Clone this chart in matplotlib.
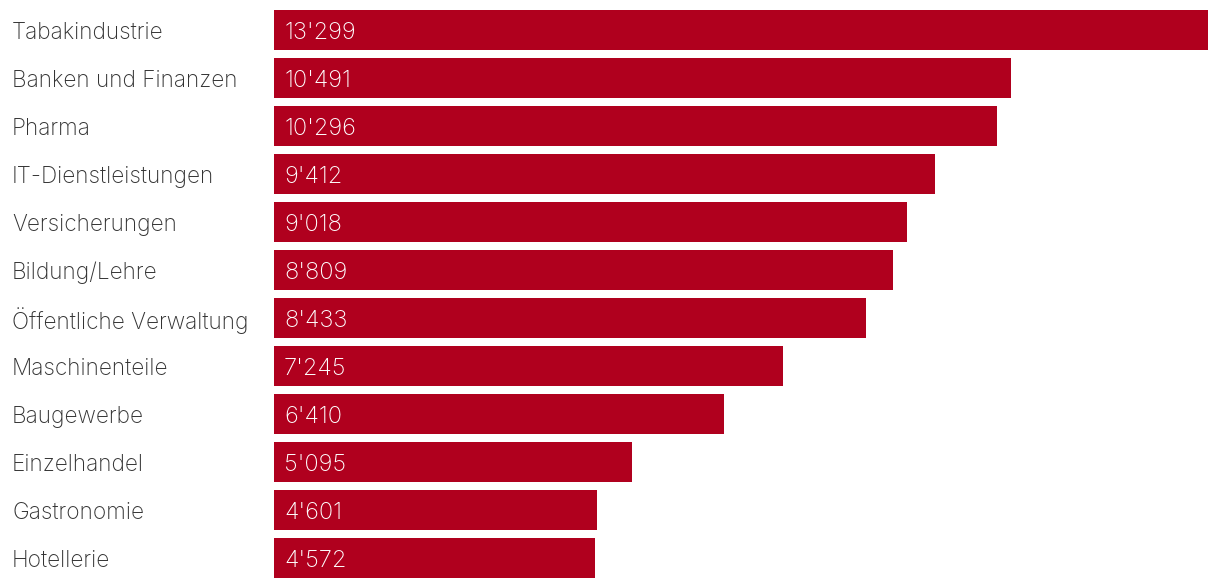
import matplotlib
matplotlib.use("Agg")
import matplotlib.pyplot as plt

categories = ["Tabakindustrie", "Banken und Finanzen", "Pharma", "IT-Dienstleistungen",
              "Versicherungen", "Bildung/Lehre", "Öffentliche Verwaltung", "Maschinenteile",
              "Baugewerbe", "Einzelhandel", "Gastronomie", "Hotellerie"]
values = [13299, 10491, 10296, 9412, 9018, 8809, 8433, 7245, 6410, 5095, 4601, 4572]
value_labels = ["13'299", "10'491", "10'296", "9'412", "9'018", "8'809", "8'433",
                "7'245", "6'410", "5'095", "4'601", "4'572"]

BAR = "#B0001E"
W, H = 1220, 588
fig = plt.figure(figsize=(W / 100, H / 100), dpi=100)
ax = fig.add_axes([274 / W, (H - 578) / H, 934 / W, 568 / H])
FAM = ["Inter", "DejaVu Sans"]

bh = 40 / 48
ys = list(range(len(categories)))
ax.barh(ys, values, height=bh, color=BAR, edgecolor="none")
ax.set_xlim(0, max(values))
ax.set_ylim(len(categories) - 1 + bh / 2, -bh / 2)
ax.axis("off")

for y, c, lab in zip(ys, categories, value_labels):
    ax.annotate(c, xy=(0, y), xycoords=("axes fraction", "data"),
                xytext=(-262, -3), textcoords="offset pixels",
                ha="left", va="center", fontsize=16.3, color="#333333",
                family=FAM, fontweight="light")
    ax.annotate(lab, xy=(0, y), xycoords="data",
                xytext=(10, -3), textcoords="offset pixels",
                ha="left", va="center", fontsize=17, color="white",
                family=FAM, fontweight="light")

fig.savefig("out.png", dpi=100)
